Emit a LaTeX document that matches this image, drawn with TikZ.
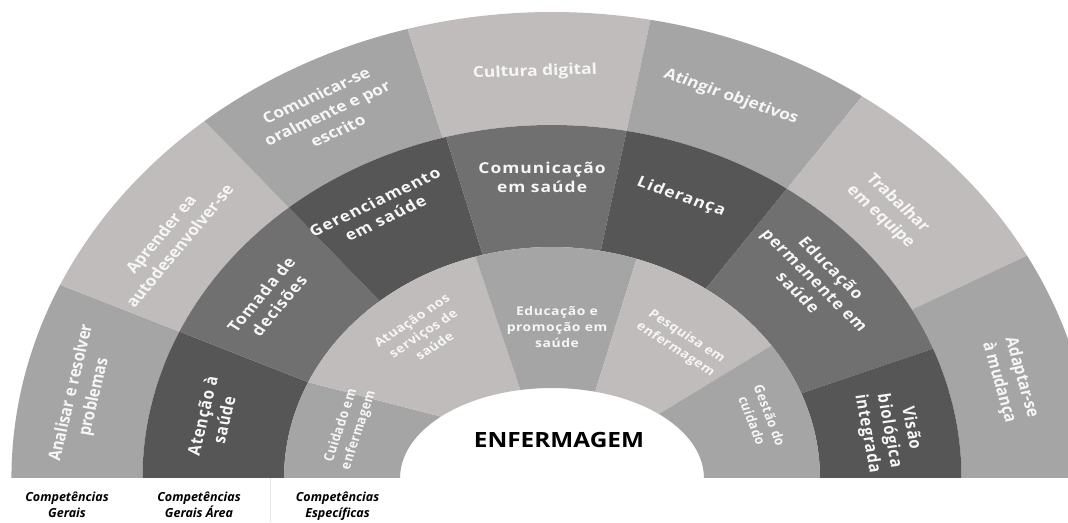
\documentclass[tikz,border=0pt]{standalone}
\usepackage{fontspec}
\setmainfont{Open Sans}
\newfontfamily\rtwo[LetterSpace=6]{Open Sans}
\newfontfamily\rthree[LetterSpace=4]{Open Sans}
\definecolor{cLight}{HTML}{C1BCBC}
\definecolor{cMid}{HTML}{A5A5A5}
\definecolor{cDark}{HTML}{565656}
\definecolor{cDim}{HTML}{707070}
\definecolor{cText}{HTML}{F6F6F6}
\newcommand\ringseg[5]{%
  \fill[#1] (#2:#4) arc[start angle=#2,end angle=#3,radius=#4pt] -- (#3:#5)
    arc[start angle=#3,end angle=#2,radius=#5pt] -- cycle;}
\newcommand\innerseg[5]{%
  \fill[#1] (#2:231) arc[start angle=#2,end angle=#3,radius=231pt]
    -- ({131*cos(#5)},{90*sin(#5)})
    arc[start angle=#5,end angle=#4,x radius=131pt,y radius=90pt] -- cycle;}
\tikzset{
  rone/.style={text=cText, font=\bfseries\fontsize{15}{20}\selectfont, align=center, inner sep=0pt},
  rtwostyle/.style={text=cText, font=\rtwo\bfseries\fontsize{15}{19}\selectfont, align=center, inner sep=0pt},
  rthreestyle/.style={text=cText, font=\rthree\bfseries\fontsize{12}{16}\selectfont, align=center, inner sep=0pt},
  centrelabel/.style={text=black, font=\bfseries\fontsize{21}{24}\selectfont, inner sep=0pt},
  bottomlabel/.style={text=black, font=\bfseries\itshape\fontsize{12.5}{16}\selectfont, align=center, inner sep=0pt, anchor=base}
}
\begin{document}
\begin{tikzpicture}[x=1pt,y=1pt]
\useasboundingbox (0,0) rectangle (1068,522);
\clip (0,0) rectangle (1068,522);
\fill[white] (0,0) rectangle (1068,522);
\begin{scope}[shift={(552,44)}, xscale=1.16, transform shape]
  % ring 1 (outer)
  \ringseg{cMid}{180}{155.5}{466}{353}
  \ringseg{cLight}{155.5}{130}{466}{353}
  \ringseg{cMid}{130}{105.5}{466}{353}
  \ringseg{cLight}{105.5}{79.5}{466}{353}
  \ringseg{cMid}{79.5}{55}{466}{353}
  \ringseg{cLight}{55}{28.5}{466}{353}
  \ringseg{cMid}{28.5}{0}{466}{353}
  % ring 2
  \ringseg{cDark}{180}{155.5}{353}{231}
  \ringseg{cDim}{155.5}{130}{353}{231}
  \ringseg{cDark}{130}{105}{353}{231}
  \ringseg{cDim}{105}{79.5}{353}{231}
  \ringseg{cDark}{79.5}{55}{353}{231}
  \ringseg{cDim}{55}{21.5}{353}{231}
  \ringseg{cDark}{21.5}{0}{353}{231}
  % ring 3
  \innerseg{cMid}{180}{155.5}{180}{137}
  \innerseg{cLight}{155.5}{106.6}{137}{102}
  \innerseg{cMid}{106.6}{71.6}{102}{73.5}
  \innerseg{cLight}{71.6}{35}{73.5}{45.3}
  \innerseg{cMid}{35}{0}{45.3}{0}
  % ring 1 labels
  \node[rone, rotate=78.4] (analisar) at (-404.3,83) {Analisar e resolver\\problemas};
  \node[rone, rotate=54.1] (aprender) at (-329.3,238) {Aprender ea\\autodesenvolver-se};
  \node[rone, rotate=28] (comunicar) at (-194,365) {Comunicar-se\\oralmente e por\\escrito};
  \node[rone, rotate=2.1] (cultura) at (-14.7,406) {Cultura digital};
  \node[rone, rotate=-22] (atingir) at (154.3,381) {Atingir objetivos};
  \node[rone, rotate=-47.3] (trabalhar) at (290.5,268) {Trabalhar\\em equipe};
  \node[rone, rotate=-76.1] (adaptar) at (394.8,98) {Adaptar-se\\à mudança};
  % ring 2 labels
  \node[rtwostyle, rotate=78.4] (atencao) at (-292.2,60) {Atenção à\\saúde};
  \node[rtwostyle, rotate=53.8] (tomada) at (-243.1,178) {Tomada de\\decisões};
  \node[rtwostyle, rotate=28.9] (gerenc) at (-148.3,268) {Gerenciamento\\em saúde};
  \node[rtwostyle, rotate=0] (comsaude) at (-8.6,301) {Comunicação\\em saúde};
  \node[rtwostyle, rotate=-21.6] (lideranca) at (111.2,281) {Liderança};
  \node[rtwostyle, rotate=-48.9] (educperm) at (226.7,198) {Educação\\permanente em\\saúde};
  \node[rtwostyle, rotate=-80.8] (visao) at (290.5,47) {Visão\\biológica\\integrada};
  % ring 3 labels
  \node[rthreestyle, rotate=74] (cuidado) at (-174.1,50) {Cuidado em\\enfermagem};
  \node[rthreestyle, rotate=37.5] (atuacao) at (-111.2,145) {Atuação nos\\serviços de\\saúde};
  \node[rthreestyle, rotate=0] (educprom) at (4.3,151) {Educação e\\promoção em\\saúde};
  \node[rthreestyle, rotate=-37] (pesquisa) at (111.2,135) {Pesquisa em\\enfermagem};
  \node[rthreestyle, rotate=-71.6] (gestao) at (180.2,60) {Gestão do\\cuidado};
  % centre
  \node[centrelabel] (enf) at (6,38) {ENFERMAGEM};
\end{scope}
% bottom legend
\draw[gray!20, line width=0.8pt] (270,0) -- (270,44);
\node[bottomlabel] (lgerais) at (67,4.5) {Competências\\Gerais};
\node[bottomlabel] (larea) at (199,4.5) {Competências\\Gerais Área};
\node[bottomlabel] (lespec) at (337.5,4.5) {Competências\\Específicas};
\end{tikzpicture}
\end{document}
